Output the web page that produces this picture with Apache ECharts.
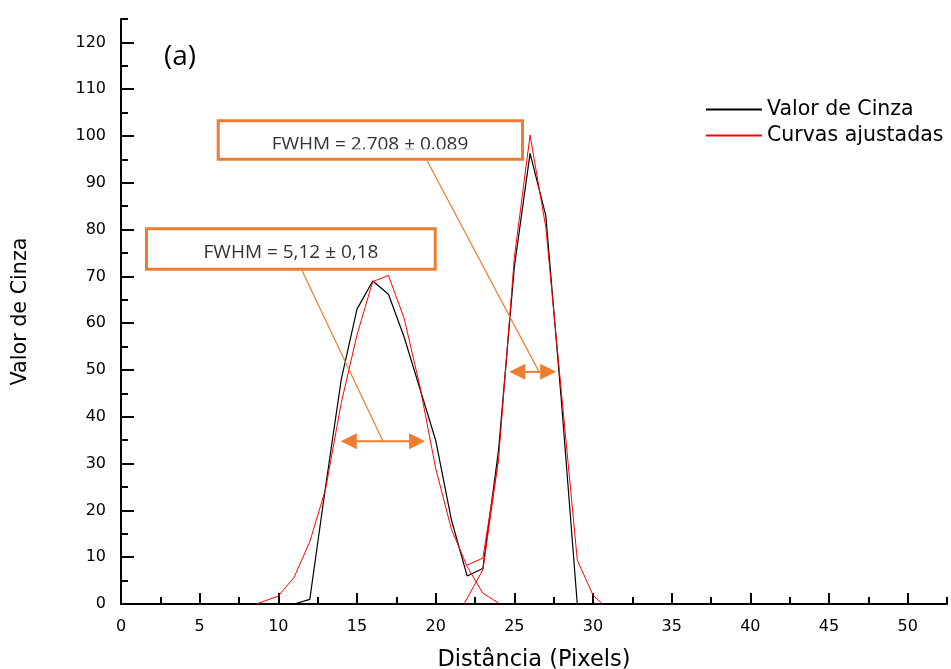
<!DOCTYPE html>
<html><head><meta charset="utf-8">
<script src="https://cdn.jsdelivr.net/npm/echarts@6/dist/echarts.min.js"></script>
<style>html,body{margin:0;padding:0;background:#fff}#c{width:951px;height:669px}</style>
</head><body><div id="c"></div>
<script>
// ---- data ----
const grayX = [11,12,13,14,15,16,17,18,19,20,21,22,23,24,25,26,27,28,29];
const grayY = [0,1,25,48,63,69,66.2,57,46,35,18,6,7.6,33,72,96.3,83,43,0];
const fitLeftX = [8.6,10,11,12,13,14,15,16,17,18,19,20,21,22,23,24];
const fitLeftY = [0,1.7,5.7,13.3,24.5,43,57.5,68.9,70.2,61,46.5,29,16,8,2.3,0.2];
const fitRightX = [21.8,23,24,25,26,27,28,29,30,30.6];
const fitRightY = [0,7.3,31,74,100.2,80.5,45,9.4,1.9,0];
const fitSumX = [22,23,24];
const fitSumY = [8.3,9.8,31];
const xTicks = [0,5,10,15,20,25,30,35,40,45,50];
const yTicks = [0,10,20,30,40,50,60,70,80,90,100,110,120];
const xEndTick = [52.5];
const yEndTick = [125];
const seriesNames = ['Valor de Cinza', 'Curvas ajustadas'];
const axisNames = ['Distância (Pixels)', 'Valor de Cinza'];
const panelLabel = '(a)';
const fwhmLabels = ['FWHM = 5,12 ± 0,18', 'FWHM = 2,708 ± 0,089'];
const fwhmX1 = [13.97, 24.68];
const fwhmX2 = [19.33, 27.66];
const fwhmY = [34.8, 49.6];

const zip = (xs, ys) => xs.map((x, i) => [x, ys[i]]);
const ORANGE = '#ED7D31';
const chart = echarts.init(document.getElementById('c'), null, {renderer: 'canvas'});
const gridBox = {left: 121, right: 4, top: 19, bottom: 65, containLabel: false, outerBoundsMode: 'none'};
const lblFont = {fontFamily: 'DejaVu Sans', fontSize: 16, color: '#000'};

const option = {
  animation: false,
  backgroundColor: '#fff',
  grid: [Object.assign({}, gridBox), Object.assign({}, gridBox)],
  legend: {
    orient: 'vertical', left: 700, top: 94, itemWidth: 56, itemHeight: 12, itemGap: 5,
    data: seriesNames,
    itemStyle: {opacity: 0},
    textStyle: {fontFamily: 'DejaVu Sans', fontSize: 20.5, color: '#000', lineHeight: 21}
  },
  xAxis: [{
    type: 'value', gridIndex: 0, min: 0, max: 52.5, interval: 5,
    name: axisNames[0], nameLocation: 'middle', nameGap: 45,
    nameTextStyle: {fontFamily: 'DejaVu Sans', fontSize: 22.5, color: '#000'},
    axisLine: {show: true, onZero: false, lineStyle: {color: '#000', width: 2}},
    axisTick: {show: true, inside: true, length: 11, customValues: xTicks, lineStyle: {color: '#000', width: 2}},
    minorTick: {show: true, splitNumber: 2, length: 7, lineStyle: {color: '#000', width: 2}},
    axisLabel: Object.assign({margin: 15, customValues: xTicks}, lblFont),
    splitLine: {show: false}
  }, {
    type: 'value', gridIndex: 1, min: 0, max: 52.5, interval: 5,
    axisLine: {show: false},
    axisTick: {show: true, inside: true, length: 7, customValues: xEndTick, lineStyle: {color: '#000', width: 2}},
    axisLabel: {show: false}, splitLine: {show: false}
  }],
  yAxis: [{
    type: 'value', gridIndex: 0, min: 0, max: 125, interval: 10,
    name: axisNames[1], nameLocation: 'middle', nameGap: 90, nameRotate: 90,
    nameTextStyle: {fontFamily: 'DejaVu Sans', fontSize: 20.7, color: '#000'},
    axisLine: {show: true, onZero: false, lineStyle: {color: '#000', width: 2}},
    axisTick: {show: true, inside: true, length: 13, customValues: yTicks, lineStyle: {color: '#000', width: 2}},
    minorTick: {show: true, splitNumber: 2, length: 7, lineStyle: {color: '#000', width: 2}},
    axisLabel: Object.assign({margin: 15, customValues: yTicks}, lblFont),
    splitLine: {show: false}
  }, {
    type: 'value', gridIndex: 1, min: 0, max: 125, interval: 10,
    axisLine: {show: false},
    axisTick: {show: true, inside: true, length: 7, customValues: yEndTick, lineStyle: {color: '#000', width: 2}},
    axisLabel: {show: false}, splitLine: {show: false}
  }],
  series: [
    {name: seriesNames[0], type: 'line', xAxisIndex: 0, yAxisIndex: 0, data: zip(grayX, grayY),
     symbol: 'none', lineStyle: {color: '#000', width: 1.2}, itemStyle: {color: '#000'}, z: 3},
    {name: seriesNames[1], type: 'line', xAxisIndex: 0, yAxisIndex: 0, data: zip(fitLeftX, fitLeftY),
     symbol: 'none', lineStyle: {color: '#ff0000', width: 1}, itemStyle: {color: '#ff0000'}, z: 4},
    {name: seriesNames[1], type: 'line', xAxisIndex: 0, yAxisIndex: 0, data: zip(fitRightX, fitRightY),
     symbol: 'none', lineStyle: {color: '#ff0000', width: 1}, itemStyle: {color: '#ff0000'}, z: 4},
    {name: seriesNames[1], type: 'line', xAxisIndex: 0, yAxisIndex: 0, data: zip(fitSumX, fitSumY),
     symbol: 'none', lineStyle: {color: '#ff0000', width: 1}, itemStyle: {color: '#ff0000'}, z: 4}
  ]
};
chart.setOption(option);

// ---- annotations (positions resolved through the chart's own scales) ----
const toPx = (x, y) => chart.convertToPixel({seriesIndex: 0}, [x, y]);
function arrow(x1, x2, y) {
  const a = toPx(x1, y), b = toPx(x2, y);
  const L = 16, H = 8;
  return [
    {type: 'line', z: 120, shape: {x1: a[0] + L - 1, y1: a[1], x2: b[0] - L + 1, y2: b[1]}, style: {stroke: ORANGE, lineWidth: 2}},
    {type: 'polygon', z: 121, shape: {points: [[a[0], a[1]], [a[0] + L, a[1] - H], [a[0] + L, a[1] + H]]}, style: {fill: ORANGE}},
    {type: 'polygon', z: 121, shape: {points: [[b[0], b[1]], [b[0] - L, b[1] - H], [b[0] - L, b[1] + H]]}, style: {fill: ORANGE}}
  ];
}
const boxes = [
  {x: 146.5, y: 228.8, w: 288.7, h: 40.4, tx: 291, ty: 253, clip: null, from: [302, 270.5]},
  {x: 218.2, y: 120.8, w: 304.3, h: 38.4, tx: 370, ty: 144.6, clip: 149.3, from: [427, 160.5]}
];
const g = [];
boxes.forEach((b, i) => {
  const mid = toPx((fwhmX1[i] + fwhmX2[i]) / 2 + (i === 0 ? 0 : 0.4), fwhmY[i]);
  g.push({type: 'line', z: 110, shape: {x1: b.from[0], y1: b.from[1], x2: mid[0], y2: mid[1]}, style: {stroke: ORANGE, lineWidth: 1.2}});
  g.push({type: 'rect', z: 130, shape: {x: b.x, y: b.y, width: b.w, height: b.h}, style: {fill: '#fff', stroke: null}});
  g.push({type: 'text', z: 131, x: b.tx, y: b.ty, style: {text: fwhmLabels[i], fontFamily: 'Open Sans', fontSize: 19, fill: '#333', align: 'center', verticalAlign: 'middle'}});
  if (b.clip) g.push({type: 'rect', z: 132, shape: {x: b.x + 2, y: b.clip, width: b.w - 4, height: b.y + b.h - b.clip - 1}, style: {fill: '#fff', stroke: null}});
  g.push({type: 'rect', z: 133, shape: {x: b.x, y: b.y, width: b.w, height: b.h}, style: {fill: null, stroke: ORANGE, lineWidth: 3}});
  arrow(fwhmX1[i], fwhmX2[i], fwhmY[i]).forEach(e => g.push(e));
});
g.push({type: 'text', z: 131, x: 164, y: 57, style: {text: panelLabel, fontFamily: 'Open Sans', fontSize: 28, fill: '#000', align: 'left', verticalAlign: 'middle'}});
chart.setOption({graphic: g});
</script>
</body></html>
